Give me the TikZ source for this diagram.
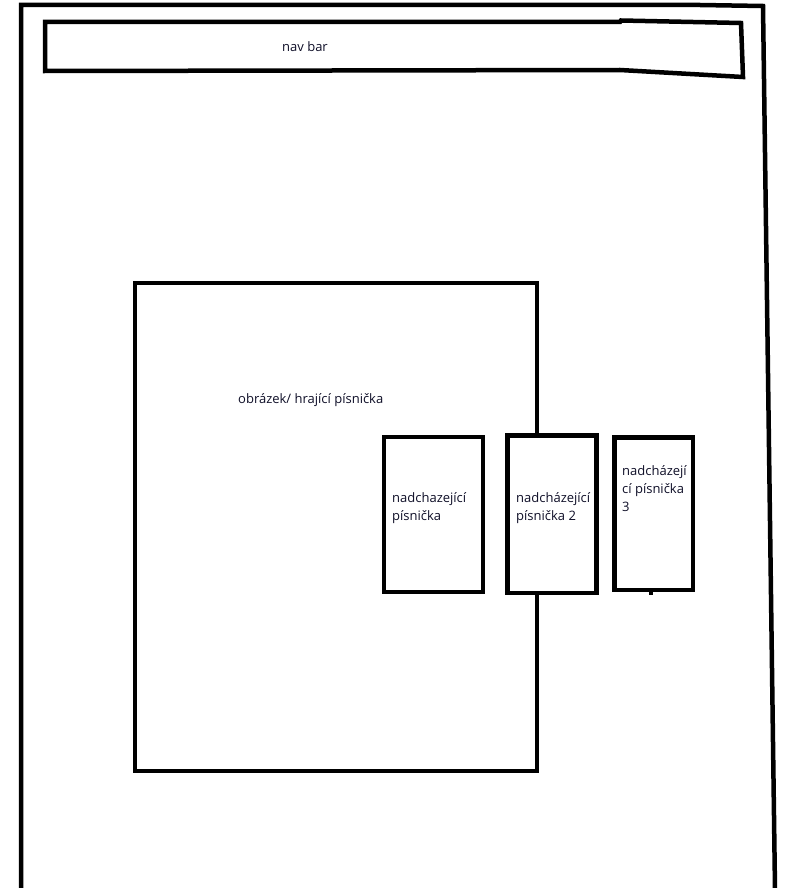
\documentclass[tikz,border=0pt]{standalone}
\usepackage{fontspec}
\setmainfont{Open Sans}
\definecolor{txt}{RGB}{15,15,40}
\begin{document}
\begin{tikzpicture}[x=1pt,y=-1pt,
  ln/.style={line width=4.5pt, draw=black},
  box/.style={ln, fill=white, inner sep=0pt, outer sep=0pt},
  lbl/.style={text=txt, inner sep=0pt, align=left, font=\fontsize{13}{18}\selectfont}]
\useasboundingbox (0,0) rectangle (787,888);
% outer frame
\coordinate (fbl) at (21,890);
\coordinate (ftl) at (21,5);
\coordinate (ftm) at (700,5);
\coordinate (ftr) at (763,6);
\coordinate (fbr) at (775,890);
\draw[ln, line join=miter] (fbl) -- (ftl) -- (ftm) -- (ftr) -- (fbr);
% nav bar
\coordinate (n1) at (45,22);
\coordinate (n2) at (620,22);
\coordinate (n3) at (621,20.5);
\coordinate (n4) at (741,23);
\coordinate (n5) at (743,77);
\coordinate (n6) at (620,70);
\coordinate (n7) at (45,71);
\draw[ln, line join=miter] (n1) -- (n2) -- (n3) -- (n4) -- (n5) -- (n6) -- (n7) -- cycle;
\node[lbl, anchor=west] (navlbl) at (282,47) {nav bar};
% big box
\node[box, minimum width=402pt, minimum height=488pt] (big) at (336,527) {};
\node[lbl, anchor=west] (biglbl) at (238,400) {obrázek/ hrající písnička};
% small boxes
\node[box, minimum width=99pt, minimum height=155pt] (b1) at (433.5,514.5) {};
\node[box, minimum width=89pt, minimum height=157.5pt] (b2) at (552,514.25) {};
\node[box, minimum width=78.5pt, minimum height=152.5pt] (b3) at (653.75,513.75) {};
\coordinate (tick) at (651,595);
\draw[line width=4pt] (b3.south -| tick) -- (tick);
\node[lbl, anchor=west] (t1) at (392,508) {nadchazející\\písnička};
\node[lbl, anchor=west] (t2) at (516,508) {nadcházející\\písnička 2};
\node[lbl, anchor=north west] (t3) at (622,465) {nadcházejí\\cí písnička\\3};
\end{tikzpicture}
\end{document}
